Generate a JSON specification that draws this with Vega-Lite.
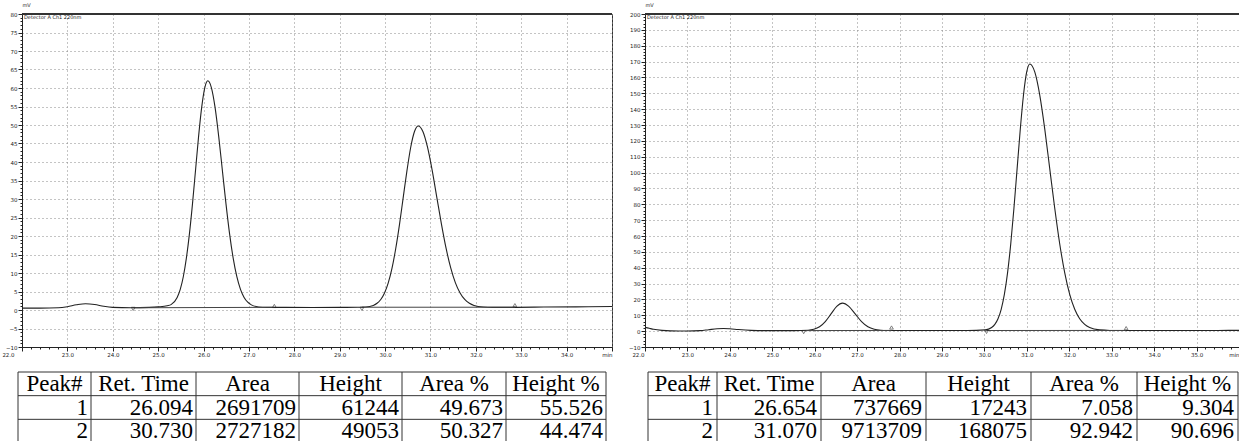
{
  "$schema": "https://vega.github.io/schema/vega-lite/v6.json",
  "background": "white",
  "autosize": {"type": "pad"},
  "padding": {"left": 1, "top": 1, "right": 0, "bottom": 0},
  "config": {
    "font": "DejaVu Sans",
    "view": {"stroke": "#333", "strokeWidth": 1},
    "axis": {
      "domainColor": "#222",
      "tickColor": "#222",
      "labelColor": "#222",
      "labelFont": "DejaVu Sans",
      "labelFontSize": 5.5,
      "labelPadding": 1,
      "labelOverlap": false,
      "labelFlush": false,
      "grid": true,
      "gridDash": [1, 3],
      "gridColor": "#888",
      "gridWidth": 1
    }
  },
  "datasets": {
    "leftSignal": [
      {"t": 22.0, "v": 0.5}, {"t": 22.4, "v": 0.5}, {"t": 22.8, "v": 0.6}, {"t": 23.0, "v": 0.9},
      {"t": 23.2, "v": 1.4}, {"t": 23.4, "v": 1.7}, {"t": 23.6, "v": 1.5}, {"t": 23.8, "v": 1.0},
      {"t": 24.0, "v": 0.7}, {"t": 24.4, "v": 0.6}, {"t": 24.8, "v": 0.7}, {"t": 25.0, "v": 0.85},
      {"t": 25.2, "v": 1.15}, {"t": 25.284, "v": 1.45}, {"t": 25.419, "v": 3.39}, {"t": 25.487, "v": 5.57},
      {"t": 25.554, "v": 8.99}, {"t": 25.621, "v": 13.95}, {"t": 25.689, "v": 20.58}, {"t": 25.757, "v": 28.74},
      {"t": 25.824, "v": 37.84}, {"t": 25.891, "v": 46.92}, {"t": 25.959, "v": 54.75}, {"t": 26.027, "v": 60.05},
      {"t": 26.094, "v": 61.94}, {"t": 26.174, "v": 60.05}, {"t": 26.254, "v": 54.75}, {"t": 26.334, "v": 46.92},
      {"t": 26.414, "v": 37.84}, {"t": 26.494, "v": 28.74}, {"t": 26.574, "v": 20.58}, {"t": 26.654, "v": 13.95},
      {"t": 26.734, "v": 8.99}, {"t": 26.814, "v": 5.57}, {"t": 26.894, "v": 3.39}, {"t": 26.974, "v": 2.1},
      {"t": 27.054, "v": 1.38}, {"t": 27.214, "v": 0.83}, {"t": 27.4, "v": 0.72}, {"t": 27.8, "v": 0.7},
      {"t": 28.4, "v": 0.68}, {"t": 29.0, "v": 0.7}, {"t": 29.4, "v": 0.75}, {"t": 29.575, "v": 0.81},
      {"t": 29.74, "v": 1.24}, {"t": 29.823, "v": 1.82}, {"t": 29.905, "v": 2.85}, {"t": 29.988, "v": 4.6},
      {"t": 30.07, "v": 7.34}, {"t": 30.153, "v": 11.31}, {"t": 30.235, "v": 16.63}, {"t": 30.318, "v": 23.16},
      {"t": 30.4, "v": 30.45}, {"t": 30.483, "v": 37.72}, {"t": 30.565, "v": 43.99}, {"t": 30.648, "v": 48.24},
      {"t": 30.73, "v": 49.75}, {"t": 30.833, "v": 48.24}, {"t": 30.935, "v": 43.99}, {"t": 31.038, "v": 37.72},
      {"t": 31.14, "v": 30.45}, {"t": 31.243, "v": 23.16}, {"t": 31.345, "v": 16.63}, {"t": 31.448, "v": 11.31},
      {"t": 31.55, "v": 7.34}, {"t": 31.653, "v": 4.6}, {"t": 31.755, "v": 2.85}, {"t": 31.858, "v": 1.82},
      {"t": 31.96, "v": 1.24}, {"t": 32.165, "v": 0.81}, {"t": 32.37, "v": 0.72}, {"t": 32.8, "v": 0.72},
      {"t": 33.5, "v": 0.8}, {"t": 34.2, "v": 0.85}, {"t": 35.0, "v": 0.95}
    ],
    "leftBase": [
      {"t": 24.45, "v": 0.6, "t2": 27.56, "v2": 0.72},
      {"t": 29.49, "v": 0.75, "t2": 32.86, "v2": 0.75}
    ],
    "leftMarks": [
      {"t": 24.45, "v": 0.3, "kind": "start"},
      {"t": 27.56, "v": 1.1, "kind": "end"},
      {"t": 29.49, "v": 0.3, "kind": "start"},
      {"t": 32.86, "v": 1.3, "kind": "end"}
    ],
    "rightSignal": [
      {"t": 22.0, "v": 2.4}, {"t": 22.1, "v": 1.8}, {"t": 22.2, "v": 1.2}, {"t": 22.4, "v": 0.5},
      {"t": 22.6, "v": 0.2}, {"t": 23.0, "v": 0.1}, {"t": 23.3, "v": 0.3}, {"t": 23.5, "v": 0.9},
      {"t": 23.7, "v": 1.5}, {"t": 23.85, "v": 1.7}, {"t": 24.0, "v": 1.5}, {"t": 24.2, "v": 1.0},
      {"t": 24.5, "v": 0.5}, {"t": 25.0, "v": 0.3}, {"t": 25.5, "v": 0.35}, {"t": 25.844, "v": 0.59},
      {"t": 25.979, "v": 1.16}, {"t": 26.114, "v": 2.73}, {"t": 26.249, "v": 6.0}, {"t": 26.384, "v": 10.86},
      {"t": 26.519, "v": 15.61}, {"t": 26.654, "v": 17.64}, {"t": 26.804, "v": 15.61}, {"t": 26.954, "v": 10.86},
      {"t": 27.104, "v": 6.0}, {"t": 27.254, "v": 2.73}, {"t": 27.404, "v": 1.16}, {"t": 27.554, "v": 0.59},
      {"t": 27.704, "v": 0.44}, {"t": 28.2, "v": 0.4}, {"t": 29.0, "v": 0.4}, {"t": 29.6, "v": 0.4},
      {"t": 30.02, "v": 0.77}, {"t": 30.17, "v": 2.27}, {"t": 30.245, "v": 4.23}, {"t": 30.32, "v": 7.78},
      {"t": 30.395, "v": 13.78}, {"t": 30.47, "v": 23.14}, {"t": 30.545, "v": 36.76}, {"t": 30.62, "v": 54.98},
      {"t": 30.695, "v": 77.35}, {"t": 30.77, "v": 102.34}, {"t": 30.845, "v": 127.27}, {"t": 30.92, "v": 148.73},
      {"t": 30.995, "v": 163.3}, {"t": 31.07, "v": 168.48}, {"t": 31.188, "v": 163.3}, {"t": 31.305, "v": 148.73},
      {"t": 31.423, "v": 127.27}, {"t": 31.54, "v": 102.34}, {"t": 31.658, "v": 77.35}, {"t": 31.775, "v": 54.98},
      {"t": 31.893, "v": 36.76}, {"t": 32.01, "v": 23.14}, {"t": 32.128, "v": 13.78}, {"t": 32.245, "v": 7.78},
      {"t": 32.363, "v": 4.23}, {"t": 32.48, "v": 2.27}, {"t": 32.715, "v": 0.77}, {"t": 32.95, "v": 0.45},
      {"t": 33.5, "v": 0.4}, {"t": 34.5, "v": 0.4}, {"t": 35.5, "v": 0.45}, {"t": 36.0, "v": 0.5}
    ],
    "rightBase": [
      {"t": 25.74, "v": 0.35, "t2": 27.81, "v2": 0.45},
      {"t": 30.05, "v": 0.4, "t2": 33.34, "v2": 0.45}
    ],
    "rightMarks": [
      {"t": 25.74, "v": -0.6, "kind": "start"},
      {"t": 27.81, "v": 2.3, "kind": "end"},
      {"t": 30.05, "v": -0.5, "kind": "start"},
      {"t": 33.34, "v": 1.9, "kind": "end"}
    ],
    "leftTable": [
      {"row": "h", "col": 1, "text": "Peak#"}, {"row": "h", "col": 2, "text": "Ret. Time"},
      {"row": "h", "col": 3, "text": "Area"}, {"row": "h", "col": 4, "text": "Height"},
      {"row": "h", "col": 5, "text": "Area %"}, {"row": "h", "col": 6, "text": "Height %"},
      {"row": "1", "col": 1, "text": "1"}, {"row": "1", "col": 2, "text": "26.094"},
      {"row": "1", "col": 3, "text": "2691709"}, {"row": "1", "col": 4, "text": "61244"},
      {"row": "1", "col": 5, "text": "49.673"}, {"row": "1", "col": 6, "text": "55.526"},
      {"row": "2", "col": 1, "text": "2"}, {"row": "2", "col": 2, "text": "30.730"},
      {"row": "2", "col": 3, "text": "2727182"}, {"row": "2", "col": 4, "text": "49053"},
      {"row": "2", "col": 5, "text": "50.327"}, {"row": "2", "col": 6, "text": "44.474"}
    ],
    "rightTable": [
      {"row": "h", "col": 1, "text": "Peak#"}, {"row": "h", "col": 2, "text": "Ret. Time"},
      {"row": "h", "col": 3, "text": "Area"}, {"row": "h", "col": 4, "text": "Height"},
      {"row": "h", "col": 5, "text": "Area %"}, {"row": "h", "col": 6, "text": "Height %"},
      {"row": "1", "col": 1, "text": "1"}, {"row": "1", "col": 2, "text": "26.654"},
      {"row": "1", "col": 3, "text": "737669"}, {"row": "1", "col": 4, "text": "17243"},
      {"row": "1", "col": 5, "text": "7.058"}, {"row": "1", "col": 6, "text": "9.304"},
      {"row": "2", "col": 1, "text": "2"}, {"row": "2", "col": 2, "text": "31.070"},
      {"row": "2", "col": 3, "text": "9713709"}, {"row": "2", "col": 4, "text": "168075"},
      {"row": "2", "col": 5, "text": "92.942"}, {"row": "2", "col": 6, "text": "90.696"}
    ],
    "colEdges": [{"e": 0}, {"e": 1}, {"e": 2}, {"e": 3}, {"e": 4}, {"e": 5}, {"e": 6}],
    "rowEdges": [{"r": 0}, {"r": 1}, {"r": 2}, {"r": 3}]
  },
  "columns": 2,
  "spacing": {"column": 33, "row": 25},
  "bounds": "flush",
  "concat": [
    {
      "width": 590,
      "height": 333,
      "layer": [
        {
          "data": {"name": "leftSignal"},
          "mark": {"type": "line", "interpolate": "monotone", "color": "#222", "strokeWidth": 1.1},
          "encoding": {
            "x": {
              "field": "t", "type": "quantitative",
              "scale": {"domain": [22, 35], "nice": false, "zero": false},
              "axis": {
                "title": null,
                "tickCount": 65,
                "labelExpr": "abs(datum.value - round(datum.value)) < 0.01 ? (datum.value == 35 ? 'min' : format(datum.value, '.1f')) : ''",
                "labelOffset": {"condition": {"test": "datum.value == 22", "value": -14}, "value": 0},
                "labelAlign": {"condition": {"test": "datum.value == 35", "value": "right"}, "value": "center"},
                "tickSize": {"condition": {"test": "abs(datum.value - round(datum.value)) < 0.01", "value": 4}, "value": 2},
                "gridOpacity": {"condition": {"test": "abs(datum.value - round(datum.value)) < 0.01", "value": 1}, "value": 0}
              }
            },
            "y": {
              "field": "v", "type": "quantitative",
              "scale": {"domain": [-10, 80], "nice": false, "zero": false},
              "axis": {
                "title": "mV", "titleAngle": 0, "titleX": 0, "titleY": -12,
                "titleAlign": "left", "titleBaseline": "top", "titleFontSize": 5,
                "titleFontWeight": "normal", "titleColor": "#222",
                "tickCount": 90,
                "labelExpr": "datum.value % 5 == 0 ? format(datum.value, 'd') : ''",
                "tickSize": {"condition": {"test": "datum.value % 5 == 0", "value": 4}, "value": 2},
                "gridOpacity": {"condition": {"test": "datum.value % 5 == 0", "value": 1}, "value": 0}
              }
            }
          }
        },
        {
          "data": {"values": [{"label": "Detector A Ch1 220nm"}]},
          "mark": {"type": "rule", "color": "#333", "strokeWidth": 2},
          "encoding": {"y": {"datum": 80, "type": "quantitative"}}
        },
        {
          "data": {"values": [{"label": "Detector A Ch1 220nm"}]},
          "mark": {"type": "text", "align": "left", "baseline": "top", "dx": 2, "dy": 1, "fontSize": 5, "color": "#222", "font": "DejaVu Sans"},
          "encoding": {
            "x": {"datum": 22, "type": "quantitative"},
            "y": {"datum": 80, "type": "quantitative"},
            "text": {"field": "label"}
          }
        },
        {
          "data": {"name": "leftBase"},
          "mark": {"type": "rule", "color": "#444", "strokeWidth": 1},
          "encoding": {
            "x": {"field": "t", "type": "quantitative"},
            "x2": {"field": "t2"},
            "y": {"field": "v", "type": "quantitative"},
            "y2": {"field": "v2"}
          }
        },
        {
          "data": {"name": "leftMarks"},
          "mark": {"type": "point", "size": 14, "filled": false, "color": "#222", "strokeWidth": 0.8},
          "encoding": {
            "x": {"field": "t", "type": "quantitative"},
            "y": {"field": "v", "type": "quantitative"},
            "shape": {"field": "kind", "type": "nominal", "scale": {"domain": ["start", "end"], "range": ["triangle-down", "triangle-up"]}, "legend": null}
          }
        }
      ]
    },
    {
      "width": 594,
      "height": 333,
      "view": {"stroke": null},
      "layer": [
        {
          "data": {"name": "rightSignal"},
          "mark": {"type": "line", "interpolate": "monotone", "color": "#222", "strokeWidth": 1.1},
          "encoding": {
            "x": {
              "field": "t", "type": "quantitative",
              "scale": {"domain": [22, 36], "nice": false, "zero": false},
              "axis": {
                "title": null,
                "tickCount": 70,
                "labelExpr": "abs(datum.value - round(datum.value)) < 0.01 ? (datum.value == 36 ? 'min' : format(datum.value, '.1f')) : ''",
                "labelOffset": {"condition": {"test": "datum.value == 22", "value": -7}, "value": 0},
                "labelAlign": {"condition": {"test": "datum.value == 36", "value": "right"}, "value": "center"},
                "tickSize": {"condition": {"test": "abs(datum.value - round(datum.value)) < 0.01", "value": 4}, "value": 2},
                "gridOpacity": {"condition": {"test": "abs(datum.value - round(datum.value)) < 0.01", "value": 1}, "value": 0}
              }
            },
            "y": {
              "field": "v", "type": "quantitative",
              "scale": {"domain": [-10, 200], "nice": false, "zero": false},
              "axis": {
                "title": "mV", "titleAngle": 0, "titleX": 0, "titleY": -12,
                "titleAlign": "left", "titleBaseline": "top", "titleFontSize": 5,
                "titleFontWeight": "normal", "titleColor": "#222",
                "tickCount": 105,
                "labelExpr": "datum.value % 10 == 0 ? format(datum.value, 'd') : ''",
                "tickSize": {"condition": {"test": "datum.value % 10 == 0", "value": 4}, "value": 2},
                "gridOpacity": {"condition": {"test": "datum.value % 10 == 0", "value": 1}, "value": 0}
              }
            }
          }
        },
        {
          "data": {"values": [{"label": "Detector A Ch1 220nm"}]},
          "mark": {"type": "rule", "color": "#333", "strokeWidth": 2},
          "encoding": {"y": {"datum": 200, "type": "quantitative"}}
        },
        {
          "data": {"values": [{"label": "Detector A Ch1 220nm"}]},
          "mark": {"type": "text", "align": "left", "baseline": "top", "dx": 2, "dy": 1, "fontSize": 5, "color": "#222", "font": "DejaVu Sans"},
          "encoding": {
            "x": {"datum": 22, "type": "quantitative"},
            "y": {"datum": 200, "type": "quantitative"},
            "text": {"field": "label"}
          }
        },
        {
          "data": {"name": "rightBase"},
          "mark": {"type": "rule", "color": "#444", "strokeWidth": 1},
          "encoding": {
            "x": {"field": "t", "type": "quantitative"},
            "x2": {"field": "t2"},
            "y": {"field": "v", "type": "quantitative"},
            "y2": {"field": "v2"}
          }
        },
        {
          "data": {"name": "rightMarks"},
          "mark": {"type": "point", "size": 14, "filled": false, "color": "#222", "strokeWidth": 0.8},
          "encoding": {
            "x": {"field": "t", "type": "quantitative"},
            "y": {"field": "v", "type": "quantitative"},
            "shape": {"field": "kind", "type": "nominal", "scale": {"domain": ["start", "end"], "range": ["triangle-down", "triangle-up"]}, "legend": null}
          }
        }
      ]
    },
    {
      "width": 590,
      "height": 71,
      "view": {"stroke": null},
      "resolve": {"scale": {"x": "independent", "y": "independent"}},
      "layer": [
        {
          "data": {"name": "colEdges"},
          "mark": {"type": "rule", "color": "#333", "strokeWidth": 1},
          "encoding": {
            "x": {"field": "e", "type": "quantitative", "scale": {"domain": [0, 1, 2, 3, 4, 5, 6], "range": [-4, 69, 174, 277, 380, 484, 584]}, "axis": null},
            "y": {"datum": 0, "type": "quantitative", "scale": {"domain": [0, 3], "range": [0, 71]}, "axis": null},
            "y2": {"datum": 3}
          }
        },
        {
          "data": {"name": "rowEdges"},
          "mark": {"type": "rule", "color": "#333", "strokeWidth": 1},
          "encoding": {
            "y": {"field": "r", "type": "quantitative", "scale": {"domain": [0, 3], "range": [0, 71]}, "axis": null},
            "x": {"datum": 0, "type": "quantitative", "scale": {"domain": [0, 6], "range": [-4, 584]}, "axis": null},
            "x2": {"datum": 6}
          }
        },
        {
          "data": {"name": "leftTable"},
          "transform": [{"filter": "datum.row == 'h'"}],
          "mark": {"type": "text", "font": "Liberation Serif", "fontSize": 23, "color": "#000", "align": "center", "baseline": "middle"},
          "encoding": {
            "x": {"field": "col", "type": "quantitative", "scale": {"domain": [1, 2, 3, 4, 5, 6], "range": [32.5, 121.5, 225.5, 328.5, 432, 534]}, "axis": null},
            "y": {"field": "row", "type": "nominal", "scale": {"domain": ["h", "1", "2"], "range": [0, 71]}, "axis": null},
            "text": {"field": "text"}
          }
        },
        {
          "data": {"name": "leftTable"},
          "transform": [{"filter": "datum.row != 'h'"}],
          "mark": {"type": "text", "font": "Liberation Serif", "fontSize": 23, "color": "#000", "align": "right", "baseline": "middle"},
          "encoding": {
            "x": {"field": "col", "type": "quantitative", "scale": {"domain": [1, 2, 3, 4, 5, 6], "range": [66, 171, 274, 377, 481, 581]}, "axis": null},
            "y": {"field": "row", "type": "nominal", "scale": {"domain": ["h", "1", "2"], "range": [0, 71]}, "axis": null},
            "text": {"field": "text"}
          }
        }
      ]
    },
    {
      "width": 594,
      "height": 71,
      "view": {"stroke": null},
      "resolve": {"scale": {"x": "independent", "y": "independent"}},
      "layer": [
        {
          "data": {"name": "colEdges"},
          "mark": {"type": "rule", "color": "#333", "strokeWidth": 1},
          "encoding": {
            "x": {"field": "e", "type": "quantitative", "scale": {"domain": [0, 1, 2, 3, 4, 5, 6], "range": [3, 72, 176, 281, 386, 492, 593]}, "axis": null},
            "y": {"datum": 0, "type": "quantitative", "scale": {"domain": [0, 3], "range": [0, 71]}, "axis": null},
            "y2": {"datum": 3}
          }
        },
        {
          "data": {"name": "rowEdges"},
          "mark": {"type": "rule", "color": "#333", "strokeWidth": 1},
          "encoding": {
            "y": {"field": "r", "type": "quantitative", "scale": {"domain": [0, 3], "range": [0, 71]}, "axis": null},
            "x": {"datum": 0, "type": "quantitative", "scale": {"domain": [0, 6], "range": [3, 593]}, "axis": null},
            "x2": {"datum": 6}
          }
        },
        {
          "data": {"name": "rightTable"},
          "transform": [{"filter": "datum.row == 'h'"}],
          "mark": {"type": "text", "font": "Liberation Serif", "fontSize": 23, "color": "#000", "align": "center", "baseline": "middle"},
          "encoding": {
            "x": {"field": "col", "type": "quantitative", "scale": {"domain": [1, 2, 3, 4, 5, 6], "range": [37.5, 124, 228.5, 333.5, 439, 542.5]}, "axis": null},
            "y": {"field": "row", "type": "nominal", "scale": {"domain": ["h", "1", "2"], "range": [0, 71]}, "axis": null},
            "text": {"field": "text"}
          }
        },
        {
          "data": {"name": "rightTable"},
          "transform": [{"filter": "datum.row != 'h'"}],
          "mark": {"type": "text", "font": "Liberation Serif", "fontSize": 23, "color": "#000", "align": "right", "baseline": "middle"},
          "encoding": {
            "x": {"field": "col", "type": "quantitative", "scale": {"domain": [1, 2, 3, 4, 5, 6], "range": [68, 172, 277, 382, 488, 589]}, "axis": null},
            "y": {"field": "row", "type": "nominal", "scale": {"domain": ["h", "1", "2"], "range": [0, 71]}, "axis": null},
            "text": {"field": "text"}
          }
        }
      ]
    }
  ]
}
